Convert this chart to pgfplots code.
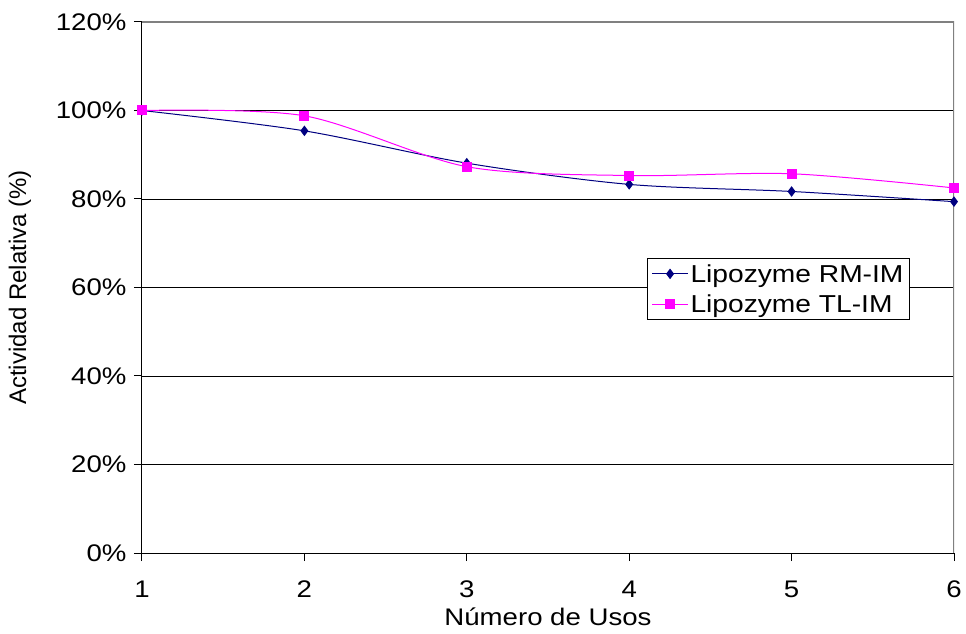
\documentclass[border=0pt]{standalone}
\usepackage{pgfplots}
\pgfplotsset{compat=1.18}
\usepackage{fontspec}
\setmainfont{Liberation Sans}[FakeStretch=1.15]
\newfontfamily\yfont{Liberation Sans}
\definecolor{rm}{RGB}{0,0,128}
\definecolor{tl}{RGB}{255,0,255}
\begin{document}
\begin{tikzpicture}
\begin{axis}[
  scale only axis,
  width=812bp, height=531bp,
  xmin=1, xmax=6, ymin=0, ymax=120,
  xtick={1,2,3,4,5,6},
  ytick={0,20,40,60,80,100,120},
  yticklabel={\pgfmathprintnumber{\tick}\%},
  /pgf/number format/assume math mode=true,
  font=\fontsize{24bp}{28bp}\selectfont,
  axis x line*=bottom, axis y line*=left,
  axis line style={black, line width=1bp},
  tick align=outside,
  major tick length=8bp,
  tick style={black, line width=1bp},
  ymajorgrids,
  grid style={black, line width=0.8bp},
  xlabel={Número de Usos},
  ylabel={{\yfont Actividad Relativa (\%)}},
  xlabel style={yshift=-3bp},
  ylabel style={yshift=18bp},
  yticklabel style={xshift=-4bp},
  xticklabel style={yshift=-16bp},
  legend style={at={(0.622,0.556)}, anchor=north west, draw=black, line width=1bp,
    font=\fontsize{24.5bp}{28bp}\selectfont, inner xsep=4bp, inner ysep=4bp, row sep=7bp,
    legend cell align=left},
  legend image code/.code={\draw[mark repeat=2,mark phase=2,#1] plot coordinates {(0bp,0bp) (18bp,0bp) (36bp,0bp)};},
  legend image post style={line width=1bp},
]
\addplot[rm, line width=1bp, smooth, mark=diamond*, mark size=4.5bp, mark options={solid, fill=rm}]
  coordinates {(1,100) (2,95.4) (3,88.1) (4,83.3) (5,81.7) (6,79.4)};
\addlegendentry{Lipozyme RM-IM}
\addplot[tl, line width=1bp, smooth, mark=square*, mark size=4.5bp, mark options={solid, fill=tl}]
  coordinates {(1,100) (2,98.8) (3,87.3) (4,85.3) (5,85.7) (6,82.5)};
\addlegendentry{Lipozyme TL-IM}
\draw[gray, line width=1.2bp] (rel axis cs:0,1) -- (rel axis cs:1,1) -- (rel axis cs:1,0);
\coordinate (ll) at (rel axis cs:0,0);
\coordinate (ur) at (rel axis cs:1,1);
\end{axis}
\pgfresetboundingbox
\path ([shift={(-142bp,-81bp)}]ll) rectangle ([shift={(12bp,22bp)}]ur);
\end{tikzpicture}
\end{document}
